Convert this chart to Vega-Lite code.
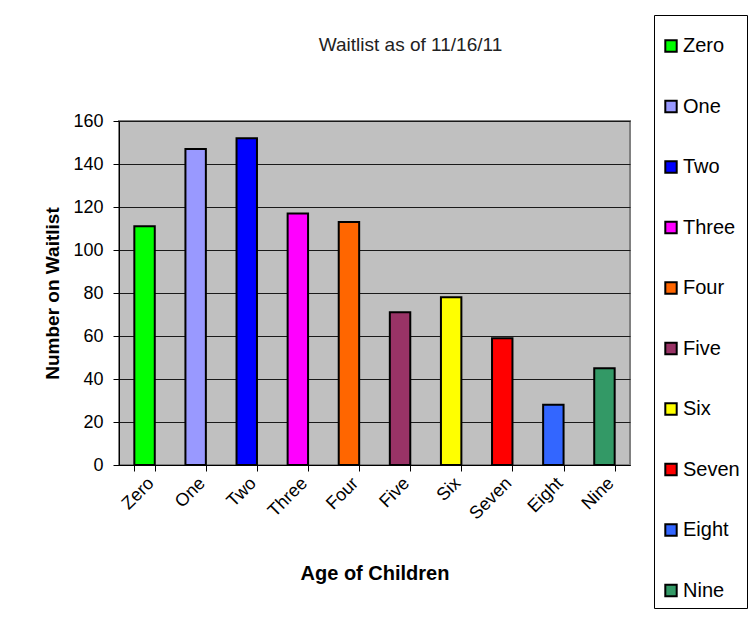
{
  "$schema": "https://vega.github.io/schema/vega-lite/v6.json",
  "width": 511,
  "height": 344,
  "autosize": {"type": "none"},
  "padding": {"left": 119, "top": 121, "right": 126, "bottom": 160},
  "background": "white",
  "title": {
    "text": "Waitlist as of 11/16/11",
    "fontSize": 19,
    "font": "Liberation Sans",
    "fontWeight": "normal",
    "color": "#222222",
    "anchor": "middle",
    "frame": "group",
    "baseline": "bottom",
    "dx": 36,
    "offset": -59
  },
  "data": {
    "values": [
      {"age": "Zero", "count": 111},
      {"age": "One", "count": 147},
      {"age": "Two", "count": 152},
      {"age": "Three", "count": 117},
      {"age": "Four", "count": 113},
      {"age": "Five", "count": 71},
      {"age": "Six", "count": 78},
      {"age": "Seven", "count": 59},
      {"age": "Eight", "count": 28},
      {"age": "Nine", "count": 45}
    ]
  },
  "mark": {"type": "bar", "stroke": "black", "strokeWidth": 2},
  "encoding": {
    "x": {
      "field": "age",
      "type": "nominal",
      "sort": null,
      "scale": {"paddingInner": 0.6, "paddingOuter": 0.3},
      "axis": {
        "title": "Age of Children",
        "titleFont": "Liberation Sans",
        "titleFontSize": 20,
        "titleFontWeight": "bold",
        "titleColor": "black",
        "titlePadding": 41,
        "labelAngle": -45,
        "labelFont": "Liberation Sans",
        "labelFontSize": 18,
        "labelColor": "black",
        "labelPadding": 3,
        "tickBand": "extent",
        "ticks": true,
        "tickSize": 6,
        "tickColor": "black",
        "domainColor": "black",
        "domainWidth": 1
      }
    },
    "y": {
      "field": "count",
      "type": "quantitative",
      "scale": {"domain": [0, 160]},
      "axis": {
        "title": "Number on Waitlist",
        "titleFont": "Liberation Sans",
        "titleFontSize": 19,
        "titleFontWeight": "bold",
        "titleColor": "black",
        "titlePadding": 10,
        "values": [0, 20, 40, 60, 80, 100, 120, 140, 160],
        "labelFont": "Liberation Sans",
        "labelFontSize": 18,
        "labelColor": "black",
        "labelPadding": 10,
        "tickSize": 6,
        "tickColor": "black",
        "domainColor": "black",
        "domainWidth": 1,
        "grid": true,
        "gridColor": "#1a1a1a",
        "gridWidth": 1
      }
    },
    "color": {
      "field": "age",
      "type": "nominal",
      "sort": null,
      "scale": {
        "domain": ["Zero", "One", "Two", "Three", "Four", "Five", "Six", "Seven", "Eight", "Nine"],
        "range": ["#00FF00", "#9999FF", "#0000FF", "#FF00FF", "#FF6600", "#993366", "#FFFF00", "#FF0000", "#3366FF", "#339966"]
      },
      "legend": {
        "orient": "none",
        "legendX": 535,
        "legendY": -106,
        "title": " ",
        "titleFontSize": 10,
        "titlePadding": 4,
        "padding": 7,
        "fillColor": "white",
        "strokeColor": "black",
        "labelFont": "Liberation Sans",
        "labelFontSize": 20,
        "labelColor": "black",
        "labelOffset": 2,
        "symbolType": "square",
        "symbolSize": 130,
        "symbolStrokeColor": "black",
        "symbolStrokeWidth": 2,
        "symbolOpacity": 1,
        "rowPadding": 40.5
      }
    }
  },
  "config": {
    "view": {"fill": "#C0C0C0", "stroke": "#808080", "strokeWidth": 2}
  }
}
